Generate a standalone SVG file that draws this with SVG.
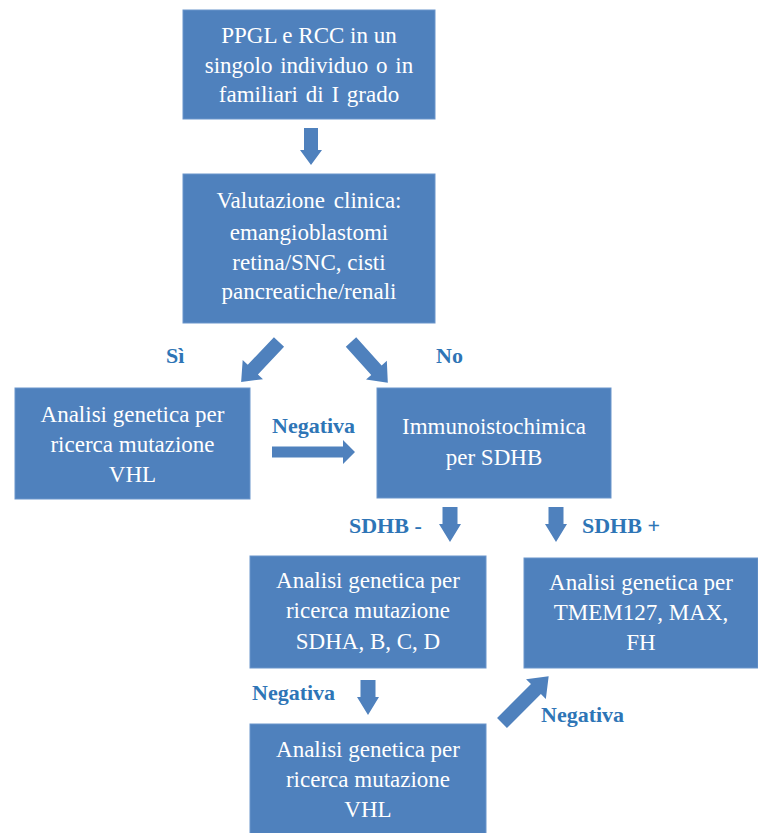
<svg xmlns="http://www.w3.org/2000/svg" width="758" height="833" viewBox="0 0 758 833">
<style>
.box{fill:#4F81BD;stroke:#6A95CB;stroke-width:1}
.t{font-size:23px;fill:#FFFFFF;text-anchor:middle}
.lbl{font-size:22px;font-weight:bold;fill:#2E75B6}
.arr{fill:#4F81BD}
</style>
<rect width="758" height="833" fill="#FFFFFF"/>
<g id="connectors">
<path class="arr" transform="translate(311,128) rotate(90)" d="M0,-7 H22 V-11 L37,0 L22,11 V7 H0 Z"/>
<path class="arr" transform="translate(279,342) rotate(133.5)" d="M0,-7 H38 V-14 L55,0 L38,14 V7 H0 Z"/>
<path class="arr" transform="translate(351,342) rotate(48)" d="M0,-7 H38 V-14 L55,0 L38,14 V7 H0 Z"/>
<path class="arr" transform="translate(272,452)" d="M0,-5.5 H71 V-12 L83,0 L71,12 V5.5 H0 Z"/>
<path class="arr" transform="translate(450,507) rotate(90)" d="M0,-7.5 H17 V-11 L35,0 L17,11 V7.5 H0 Z"/>
<path class="arr" transform="translate(556,507) rotate(90)" d="M0,-7.5 H17 V-11 L35,0 L17,11 V7.5 H0 Z"/>
<path class="arr" transform="translate(368,680) rotate(90)" d="M0,-7.5 H17 V-11 L35,0 L17,11 V7.5 H0 Z"/>
<path class="arr" transform="translate(502,723) rotate(-45)" d="M0,-7 H48 V-14 L66,0 L48,14 V7 H0 Z"/>
</g>
<g font-family="Liberation Serif, Times New Roman, serif">
<g id="n1">
<rect class="box" x="183" y="10" width="252" height="109"/>
<text class="t" x="309" y="43">PPGL e RCC in un</text>
<text class="t" x="309" y="73" word-spacing="2">singolo individuo o in</text>
<text class="t" x="309" y="102" word-spacing="2">familiari di I grado</text>
</g>
<g id="n2">
<rect class="box" x="183" y="174" width="252" height="149"/>
<text class="t" x="309" y="208" word-spacing="3">Valutazione clinica:</text>
<text class="t" x="309" y="240">emangioblastomi</text>
<text class="t" x="309" y="270">retina/SNC, cisti</text>
<text class="t" x="309" y="299">pancreatiche/renali</text>
</g>
<g id="n3">
<rect class="box" x="15" y="388" width="235" height="111"/>
<text class="t" x="132.5" y="422">Analisi genetica per</text>
<text class="t" x="132.5" y="452">ricerca mutazione</text>
<text class="t" x="132.5" y="482">VHL</text>
</g>
<g id="n4">
<rect class="box" x="377" y="388" width="234" height="110"/>
<text class="t" x="494" y="434">Immunoistochimica</text>
<text class="t" x="494" y="465">per SDHB</text>
</g>
<g id="n5">
<rect class="box" x="250" y="556" width="236" height="112"/>
<text class="t" x="368" y="588">Analisi genetica per</text>
<text class="t" x="368" y="618">ricerca mutazione</text>
<text class="t" x="368" y="649">SDHA, B, C, D</text>
</g>
<g id="n6">
<rect class="box" x="524" y="558" width="234" height="110"/>
<text class="t" x="641" y="590">Analisi genetica per</text>
<text class="t" x="641" y="620">TMEM127, MAX,</text>
<text class="t" x="641" y="650">FH</text>
</g>
<g id="n7">
<rect class="box" x="250" y="724" width="236" height="115"/>
<text class="t" x="368" y="757">Analisi genetica per</text>
<text class="t" x="368" y="787">ricerca mutazione</text>
<text class="t" x="368" y="817">VHL</text>
</g>
<g id="labels">
<text class="lbl" x="166" y="363">Sì</text>
<text class="lbl" x="436" y="363">No</text>
<text class="lbl" x="272" y="433">Negativa</text>
<text class="lbl" x="349" y="533">SDHB -</text>
<text class="lbl" x="582" y="533">SDHB +</text>
<text class="lbl" x="252" y="700">Negativa</text>
<text class="lbl" x="541" y="722">Negativa</text>
</g>
</g>
</svg>
